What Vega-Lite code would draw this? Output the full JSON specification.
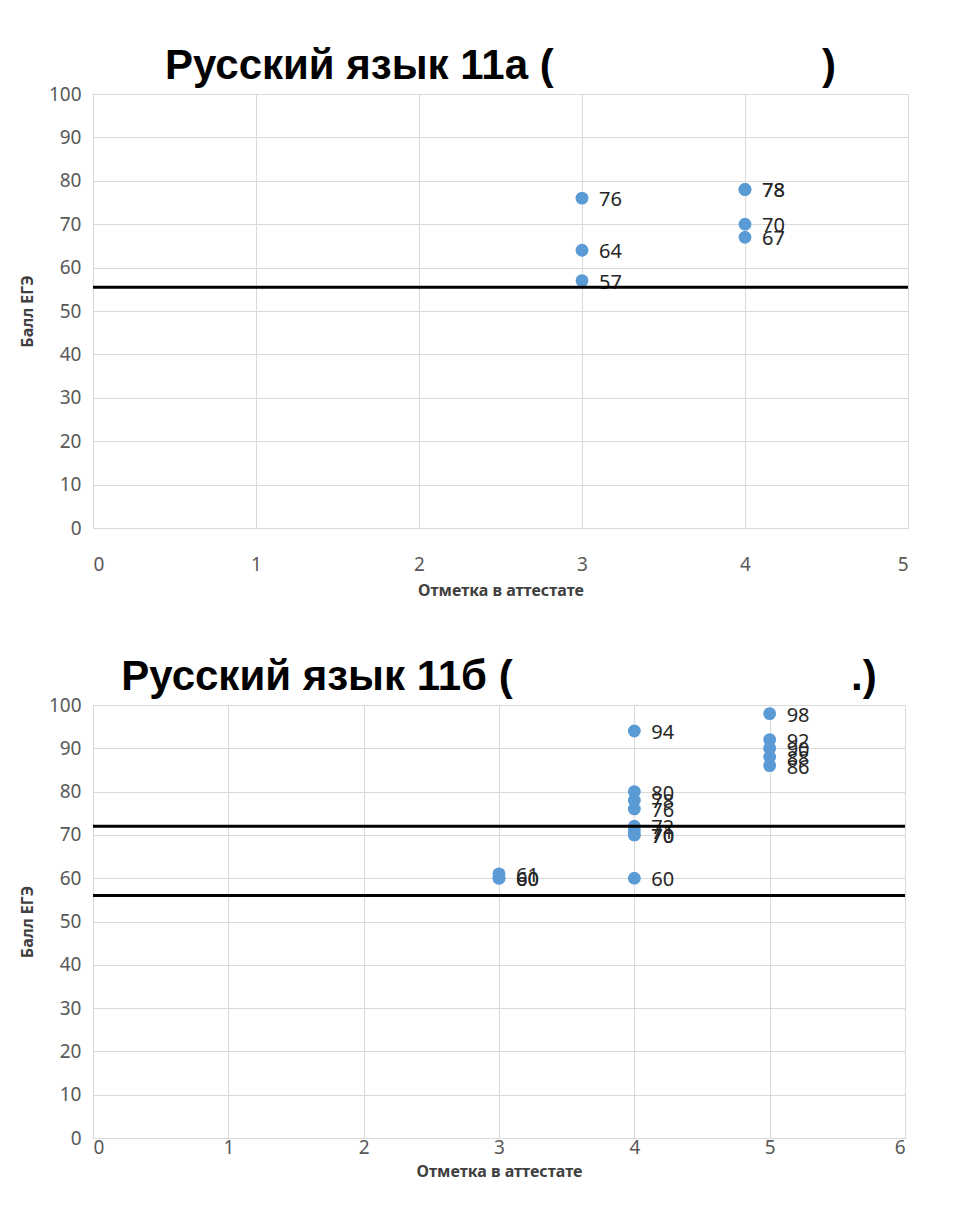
{
  "$schema": "https://vega.github.io/schema/vega-lite/v6.json",
  "padding": {"left": 18, "top": 44, "right": 40, "bottom": 5},
  "background": "white",
  "spacing": 56,
  "datasets": {
    "a": [
      {"mark": 3, "score": 76}, {"mark": 3, "score": 64}, {"mark": 3, "score": 57},
      {"mark": 4, "score": 78}, {"mark": 4, "score": 78}, {"mark": 4, "score": 70}, {"mark": 4, "score": 67}
    ],
    "b": [
      {"mark": 3, "score": 61}, {"mark": 3, "score": 60}, {"mark": 3, "score": 60},
      {"mark": 4, "score": 94}, {"mark": 4, "score": 80}, {"mark": 4, "score": 78}, {"mark": 4, "score": 76},
      {"mark": 4, "score": 72}, {"mark": 4, "score": 71}, {"mark": 4, "score": 70}, {"mark": 4, "score": 70}, {"mark": 4, "score": 60},
      {"mark": 5, "score": 98}, {"mark": 5, "score": 92}, {"mark": 5, "score": 90}, {"mark": 5, "score": 88}, {"mark": 5, "score": 86}
    ],
    "ra": [{"level": 55.5}],
    "rb": [{"level": 72}, {"level": 56}]
  },
  "config": {
    "font": "Noto Sans",
    "view": {"stroke": "#d9d9d9"},
    "axis": {
      "grid": true, "gridColor": "#d9d9d9", "domain": false, "ticks": false,
      "labelFontSize": 19, "labelColor": "#595959", "labelPadding": 12,
      "titleFontSize": 16, "titleFontWeight": "bold", "titleColor": "#404040"
    },
    "title": {"fontSize": 42, "fontWeight": "bold", "font": "Liberation Sans", "color": "black", "anchor": "middle", "offset": 2, "dy": 5}
  },
  "vconcat": [
    {
      "title": "Русский язык 11а (\u00a0\u00a0\u00a0\u00a0\u00a0\u00a0\u00a0\u00a0\u00a0\u00a0\u00a0\u00a0\u00a0\u00a0\u00a0\u00a0\u00a0\u00a0\u00a0\u00a0\u00a0\u00a0\u00a0)",
      "width": 815, "height": 434,
      "layer": [
        {
          "data": {"name": "a"},
          "mark": {"type": "circle", "size": 165, "color": "#5b9bd5", "opacity": 1},
          "encoding": {
            "x": {"field": "mark", "type": "quantitative", "scale": {"domain": [0, 5]}, "axis": {"title": "Отметка в аттестате", "tickCount": 5, "labelPadding": 27, "titlePadding": 8}},
            "y": {"field": "score", "type": "quantitative", "scale": {"domain": [0, 100]}, "axis": {"title": "Балл ЕГЭ", "tickCount": 10, "titlePadding": 13}}
          }
        },
        {
          "data": {"name": "a"},
          "mark": {"type": "text", "align": "left", "dx": 17, "dy": 2, "fontSize": 20, "color": "#262626"},
          "encoding": {
            "x": {"field": "mark", "type": "quantitative"},
            "y": {"field": "score", "type": "quantitative"},
            "text": {"field": "score", "type": "quantitative"}
          }
        },
        {
          "data": {"name": "ra"},
          "mark": {"type": "rule", "color": "black", "strokeWidth": 3},
          "encoding": {"y": {"field": "level", "type": "quantitative"}}
        }
      ]
    },
    {
      "title": "Русский язык 11б (\u00a0\u00a0\u00a0\u00a0\u00a0\u00a0\u00a0\u00a0\u00a0\u00a0\u00a0\u00a0\u00a0\u00a0\u00a0\u00a0\u00a0\u00a0\u00a0\u00a0\u00a0\u00a0\u00a0\u00a0\u00a0\u00a0\u00a0\u00a0\u00a0.)",
      "width": 812, "height": 433,
      "layer": [
        {
          "data": {"name": "b"},
          "mark": {"type": "circle", "size": 165, "color": "#5b9bd5", "opacity": 1},
          "encoding": {
            "x": {"field": "mark", "type": "quantitative", "scale": {"domain": [0, 6]}, "axis": {"title": "Отметка в аттестате", "tickCount": 6, "labelPadding": 0, "titlePadding": 6}},
            "y": {"field": "score", "type": "quantitative", "scale": {"domain": [0, 100]}, "axis": {"title": "Балл ЕГЭ", "tickCount": 10, "titlePadding": 13}}
          }
        },
        {
          "data": {"name": "b"},
          "mark": {"type": "text", "align": "left", "dx": 17, "dy": 2, "fontSize": 20, "color": "#262626"},
          "encoding": {
            "x": {"field": "mark", "type": "quantitative"},
            "y": {"field": "score", "type": "quantitative"},
            "text": {"field": "score", "type": "quantitative"}
          }
        },
        {
          "data": {"name": "rb"},
          "mark": {"type": "rule", "color": "black", "strokeWidth": 3},
          "encoding": {"y": {"field": "level", "type": "quantitative"}}
        }
      ]
    }
  ]
}
